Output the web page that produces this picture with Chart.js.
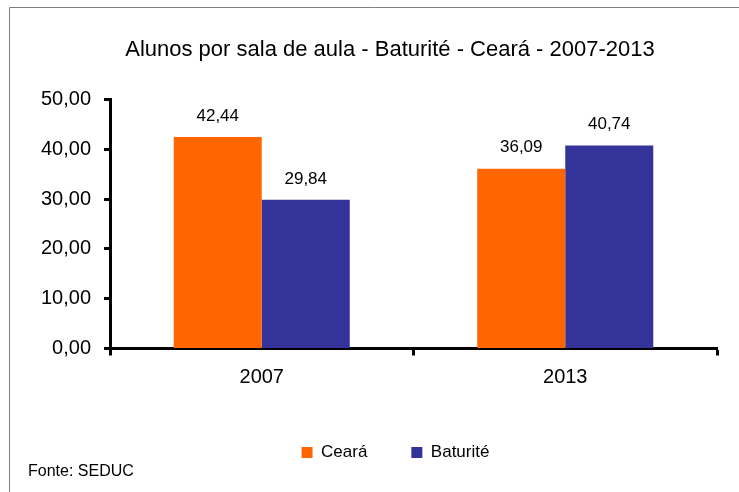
<!DOCTYPE html>
<html>
<head>
<meta charset="utf-8">
<script src="https://cdn.jsdelivr.net/npm/chart.js@4/dist/chart.umd.min.js"></script>
<style>
  body { margin: 0; background: #fff; }
  canvas { display: block; }
</style>
</head>
<body>
<canvas id="myChart" width="739" height="492"></canvas>
<script>
// categories (years) and series
var years = ['2007', '2013'];
var cearaValues = [42.44, 36.09];
var baturiteValues = [29.84, 40.74];
var seriesNames = ['Ceará', 'Baturité'];
var titleText = 'Alunos por sala de aula - Baturité - Ceará - 2007-2013';
var sourceText = 'Fonte: SEDUC';

var fontFamily = '"Liberation Sans", Arial, sans-serif';

function commaNumber(v) {
    return v.toFixed(2).replace('.', ',');
}

// values written above each bar
var barLabels = {
    id: 'barLabels',
    afterDatasetsDraw: function(chart) {
        var ctx = chart.ctx;
        ctx.save();
        ctx.font = '17px ' + fontFamily;
        ctx.fillStyle = '#000';
        ctx.textAlign = 'center';
        ctx.textBaseline = 'middle';
        chart.data.datasets.forEach(function(ds, i) {
            var meta = chart.getDatasetMeta(i);
            meta.data.forEach(function(bar, j) {
                ctx.fillText(commaNumber(ds.data[j]), bar.x, bar.y - 21);
            });
        });
        ctx.restore();
    }
};

// shift title and legend centres to where the original has them
var centreBoxes = {
    id: 'centreBoxes',
    afterLayout: function(chart) {
        chart.titleBlock.left = 63;
        chart.legend.left = 74;
    }
};

// outer frame and source note
var frame = {
    id: 'frame',
    afterDraw: function(chart) {
        var ctx = chart.ctx;
        ctx.save();
        ctx.strokeStyle = '#7f7f7f';
        ctx.lineWidth = 1;
        ctx.beginPath();
        ctx.moveTo(9.5, 492);
        ctx.lineTo(9.5, 7.5);
        ctx.lineTo(739, 7.5);
        ctx.stroke();
        ctx.font = '16px ' + fontFamily;
        ctx.fillStyle = '#000';
        ctx.textAlign = 'left';
        ctx.textBaseline = 'middle';
        ctx.fillText(sourceText, 28, 472);
        ctx.restore();
    }
};

window.onload = function() {
    var ctx = document.getElementById('myChart').getContext('2d');
    var myChart = new Chart(ctx, {
        type: 'bar',
        data: {
            labels: years,
            datasets: [{
                label: seriesNames[0],
                data: cearaValues,
                backgroundColor: '#ff6600',
                categoryPercentage: 0.58,
                barPercentage: 1.0
            }, {
                label: seriesNames[1],
                data: baturiteValues,
                backgroundColor: '#333399',
                categoryPercentage: 0.58,
                barPercentage: 1.0
            }]
        },
        options: {
            responsive: false,
            animation: false,
            devicePixelRatio: 1,
            layout: {
                padding: { left: 20, right: 22, top: 0, bottom: 21 }
            },
            plugins: {
                title: {
                    display: true,
                    text: titleText,
                    color: '#000',
                    font: { family: fontFamily, size: 22, weight: 'normal' },
                    padding: { top: 37, bottom: 36 }
                },
                legend: {
                    position: 'bottom',
                    labels: {
                        color: '#000',
                        font: { family: fontFamily, size: 17 },
                        boxWidth: 11,
                        boxHeight: 11,
                        padding: 44
                    }
                },
                tooltip: { enabled: false }
            },
            scales: {
                x: {
                    afterFit: function(scale) { scale.height = 51.5; },
                    border: { display: true, color: '#000', width: 3 },
                    grid: {
                        drawOnChartArea: false,
                        color: '#000',
                        tickLength: 7,
                        tickWidth: 3
                    },
                    ticks: {
                        color: '#000',
                        padding: 10,
                        font: { family: fontFamily, size: 20 }
                    }
                },
                y: {
                    min: 0,
                    max: 50,
                    afterFit: function(scale) { scale.width = 90; },
                    border: { display: true, color: '#000', width: 3 },
                    grid: {
                        drawOnChartArea: false,
                        color: '#000',
                        tickLength: 6,
                        tickWidth: 3
                    },
                    ticks: {
                        stepSize: 10,
                        color: '#000',
                        padding: 13,
                        font: { family: fontFamily, size: 20 },
                        callback: function(value) { return commaNumber(value); }
                    }
                }
            }
        },
        plugins: [barLabels, centreBoxes, frame]
    });
};
</script>
</body>
</html>
